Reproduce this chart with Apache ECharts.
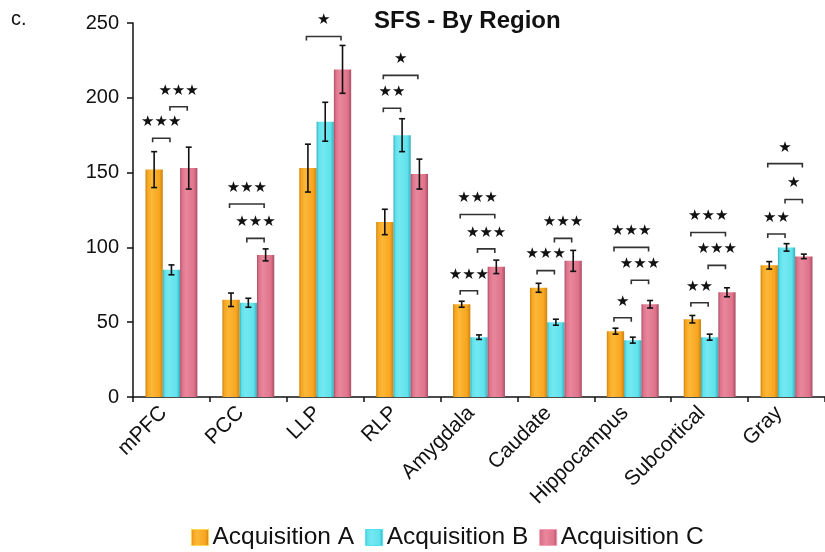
<!DOCTYPE html>
<html><head><meta charset="utf-8">
<script src="https://cdn.jsdelivr.net/npm/echarts@6/dist/echarts.min.js"></script>
<style>html,body{margin:0;padding:0;background:#fff}#c{width:825px;height:552px}</style>
</head><body><div id="c"></div>
<script>
const categories = ['mPFC','PCC','LLP','RLP','Amygdala','Caudate','Hippocampus','Subcortical','Gray'];
const seriesNames = ['Acquisition A','Acquisition B','Acquisition C'];
const valuesA = [152, 65, 153, 117, 62, 73, 44, 52, 88];
const errA    = [12, 4.5, 16, 8.5, 2, 3, 2, 2.5, 2.5];
const valuesB = [85, 63, 184, 175, 40, 50, 38, 40, 100];
const errB    = [3.3, 3, 13, 11, 1.5, 2, 2, 2, 2.5];
const valuesC = [153, 95, 219, 149, 87, 91, 62, 70, 94];
const errC    = [14, 4, 16, 10, 4.5, 7, 2.5, 3, 1.5];
const yTicks = [0, 50, 100, 150, 200, 250];
// significance brackets: [category index, from series, to series, bracket value, label]
const brackets = [
  [0,0,1,173,'★★★'], [0,1,2,194,'★★★'],
  [1,0,2,129,'★★★'], [1,1,2,106,'★★★'],
  [2,0,2,241,'★'],
  [3,0,1,193,'★★'], [3,0,2,215,'★'],
  [4,0,1,71,'★★★'], [4,1,2,99,'★★★'], [4,0,2,122,'★★★'],
  [5,0,1,84.5,'★★★'], [5,1,2,106,'★★★'],
  [6,0,1,53,'★'], [6,1,2,78,'★★★'], [6,0,2,100,'★★★'],
  [7,0,1,63,'★★'], [7,1,2,88,'★★★'], [7,0,2,110,'★★★'],
  [8,0,1,109,'★★'], [8,1,2,132,'★'], [8,0,2,156,'★']
];

const BAR_FRAC = 0.225;
const palettes = [
  {edge:'#c98410', main:'#f9a51f', light:'#fbb838', border:'#ffd54a'},
  {edge:'#37aebb', main:'#5fe2ec', light:'#74e8f1', border:'#4fe0f0'},
  {edge:'#a94f66', main:'#e0738b', light:'#e8879c', border:'#f4a0b4'}
];
function grad(p){
  return {type:'linear',x:0,y:0,x2:1,y2:0,colorStops:[
    {offset:0,color:p.edge},{offset:0.12,color:p.main},{offset:0.35,color:p.light},
    {offset:0.8,color:p.main},{offset:1,color:p.edge}]};
}
const allVals = [valuesA, valuesB, valuesC];
const allErr = [errA, errB, errC];

const barSeries = allVals.map((vals, si) => ({
  type:'bar', name: seriesNames[si], data: vals,
  barWidth: (BAR_FRAC*100)+'%', barGap:'0%',
  itemStyle:{color: grad(palettes[si])},
  z:2
}));

const errSeries = allVals.map((vals, si) => ({
  type:'custom', silent:true, z:10,
  encode:{x:0,y:1},
  data: vals.map((v,i)=>[i, v, allErr[si][i]]),
  renderItem(params, api){
    const ci = api.value(0), v = api.value(1), e = api.value(2);
    const bw = api.size([1,0])[0];
    const off = (si-1)*bw*BAR_FRAC;
    const t = api.coord([ci, v+e]), b = api.coord([ci, v-e]);
    const x = t[0]+off, cw = 3;
    const st = {stroke:'#111', lineWidth:1.6};
    return {type:'group', children:[
      {type:'line', shape:{x1:x,y1:t[1],x2:x,y2:b[1]}, style:st},
      {type:'line', shape:{x1:x-cw,y1:t[1],x2:x+cw,y2:t[1]}, style:st},
      {type:'line', shape:{x1:x-cw,y1:b[1],x2:x+cw,y2:b[1]}, style:st}
    ]};
  }
}));

const bracketSeries = {
  type:'custom', silent:true, z:11,
  encode:{x:0,y:1},
  data: brackets.map(b=>[b[0], b[3], b[1], b[2]]),
  renderItem(params, api){
    const br = brackets[params.dataIndex];
    const ci = api.value(0), yv = api.value(1), s1 = api.value(2), s2 = api.value(3);
    const bw = api.size([1,0])[0];
    const p = api.coord([ci, yv]);
    const x1 = p[0] + (s1-1)*bw*BAR_FRAC - 1.5;
    const x2 = p[0] + (s2-1)*bw*BAR_FRAC - 1.5;
    const y = p[1], tk = 4;
    return {type:'group', children:[
      {type:'polyline', shape:{points:[[x1,y+tk],[x1,y],[x2,y],[x2,y+tk]]}, style:{stroke:'#333',lineWidth:1.6,fill:null}},
      {type:'text', x:(x1+x2)/2, y:y-16, style:{text:br[4], fill:'#111', font:'15px "DejaVu Sans"', align:'center', verticalAlign:'middle'}}
    ]};
  }
};

const chart = echarts.init(document.getElementById('c'), null, {renderer:'canvas'});
chart.setOption({
  animation:false,
  backgroundColor:'#fff',
  title:[
    {text:'SFS - By Region', left:369, top:4, textStyle:{fontFamily:'Liberation Sans, Arial', fontSize:24, fontWeight:'bold', color:'#111'}},
    {text:'c.', left:6, top:4, textStyle:{fontFamily:'Liberation Sans, Arial', fontSize:20, fontWeight:'normal', color:'#111'}}
  ],
  legend:{
    data: seriesNames.map((n,si)=>({name:n, itemStyle:{borderColor:palettes[si].border, borderWidth:1}})),
    left:186, top:520, itemWidth:17, itemHeight:16, itemGap:11,
    icon:'rect',
    textStyle:{fontFamily:'Liberation Sans, Arial', fontSize:24.5, color:'#111', padding:[0,0,0,-1]}
  },
  grid:{left:133, top:23, width:693, bottom:155, containLabel:false},
  xAxis:{
    type:'category', data:categories,
    axisLine:{lineStyle:{color:'#111', width:1.5}},
    axisTick:{show:true, length:5, lineStyle:{color:'#111', width:1.5}},
    axisLabel:{rotate:45, margin:5, padding:[0,11,0,0], fontFamily:'Liberation Sans, Arial', fontSize:21, color:'#111', interval:0}
  },
  yAxis:{
    type:'value', min:yTicks[0], max:yTicks[yTicks.length-1], interval:50,
    splitLine:{show:false},
    axisLine:{show:true, lineStyle:{color:'#111', width:1.5}},
    axisTick:{show:true, length:6, lineStyle:{color:'#111', width:1.5}},
    axisLabel:{margin:14, fontFamily:'Liberation Sans, Arial', fontSize:20, color:'#111'}
  },
  series:[...barSeries, ...errSeries, bracketSeries]
});
</script></body></html>
